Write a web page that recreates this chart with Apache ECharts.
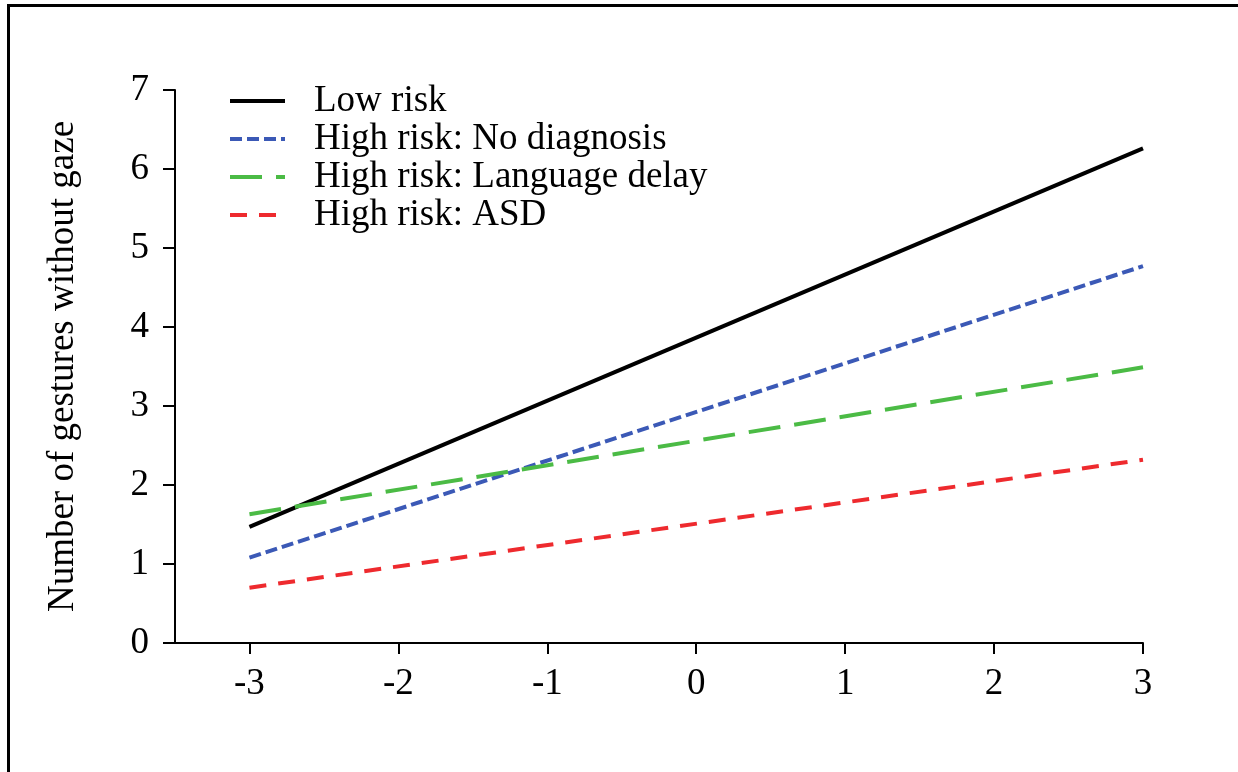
<!DOCTYPE html>
<html>
<head>
<meta charset="utf-8">
<script src="https://cdn.jsdelivr.net/npm/echarts@6/dist/echarts.min.js"></script>
<style>
html,body{margin:0;padding:0;background:#fff;}
#chart{width:1238px;height:772px;}
</style>
</head>
<body>
<div id="chart"></div>
<script>
// Data (x = -3 and x = 3 endpoints of each fitted line)
const xValues = [-3, 3];
const lowRisk = [1.47, 6.26];
const hrNoDiagnosis = [1.08, 4.77];
const hrLanguageDelay = [1.63, 3.49];
const hrASD = [0.70, 2.32];
const seriesNames = ['Low risk', 'High risk: No diagnosis', 'High risk: Language delay', 'High risk: ASD'];
const xTicks = [-3, -2, -1, 0, 1, 2, 3];
const yTicks = [0, 1, 2, 3, 4, 5, 6, 7];
const yTitle = 'Number of gestures without gaze';

const FONT = "'Liberation Serif', 'Times New Roman', serif";
const pair = (xs, ys) => xs.map((x, i) => [x, ys[i]]);

const chart = echarts.init(document.getElementById('chart'), null, {renderer: 'canvas'});
const mk = (name, data, color, type, width) => ({
  name, type: 'line', data, symbol: 'none', showSymbol: false, silent: true,
  lineStyle: {color, width, type, cap: 'butt'},
  itemStyle: {color}
});
chart.setOption({
  animation: false,
  backgroundColor: '#fff',
  textStyle: {fontFamily: FONT},
  grid: {left: 175, right: 95, top: 90, bottom: 129, containLabel: false},
  xAxis: {
    type: 'value', min: -3.5, max: 3,
    axisLine: {show: true, onZero: false, lineStyle: {color: '#000', width: 2}},
    axisTick: {show: true, length: 11, customValues: xTicks, lineStyle: {color: '#000', width: 2}},
    axisLabel: {customValues: xTicks, color: '#000', fontFamily: FONT, fontSize: 37, margin: 23,
      formatter: v => String(v)},
    splitLine: {show: false}
  },
  yAxis: {
    type: 'value', min: 0, max: 7, interval: 1,
    name: yTitle, nameLocation: 'middle', nameGap: 93,
    nameTextStyle: {color: '#000', fontFamily: FONT, fontSize: 37},
    axisLine: {show: true, onZero: false, lineStyle: {color: '#000', width: 2}},
    axisTick: {show: true, length: 12, lineStyle: {color: '#000', width: 2}},
    axisLabel: {color: '#000', fontFamily: FONT, fontSize: 37, margin: 26,
      formatter: v => String(v)},
    splitLine: {show: false}
  },
  legend: {
    orient: 'vertical', left: 228, top: 82, padding: 0,
    itemWidth: 55, itemHeight: 14, itemGap: 0,
    data: seriesNames,
    itemStyle: {opacity: 0},
    lineStyle: {width: 4},
    textStyle: {color: '#000', fontFamily: FONT, fontSize: 37, lineHeight: 38, padding: [0, 0, 0, 24]}
  },
  graphic: [
    {type: 'line', shape: {x1: 7, y1: 5.5, x2: 1238, y2: 5.5}, style: {stroke: '#000', lineWidth: 3}, silent: true},
    {type: 'line', shape: {x1: 8.5, y1: 4, x2: 8.5, y2: 772}, style: {stroke: '#000', lineWidth: 3}, silent: true}
  ],
  series: [
    mk(seriesNames[0], pair(xValues, lowRisk), '#000000', 'solid', 4),
    mk(seriesNames[1], pair(xValues, hrNoDiagnosis), '#3b59b6', [12, 5], 4),
    mk(seriesNames[2], pair(xValues, hrLanguageDelay), '#4bbb45', [32, 14], 4),
    mk(seriesNames[3], pair(xValues, hrASD), '#ee2a2e', [17, 12], 4)
  ]
});
</script>
</body>
</html>
